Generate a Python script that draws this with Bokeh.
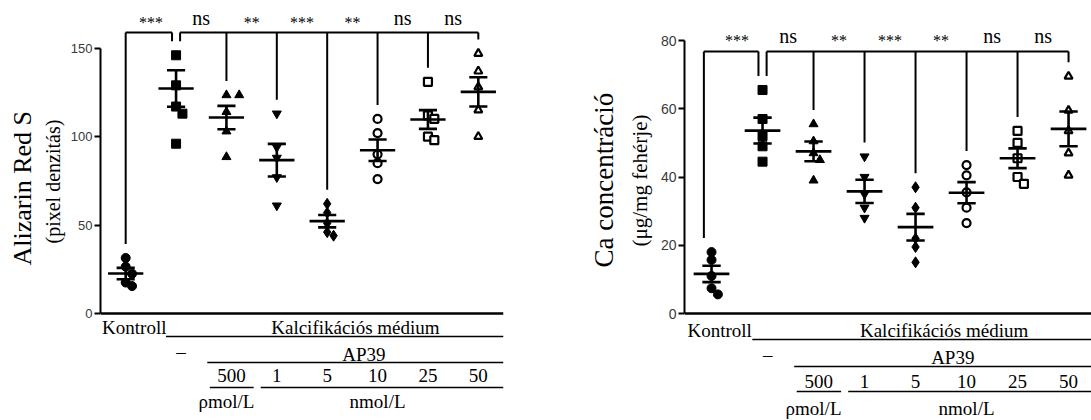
import numpy as np
from bokeh.plotting import figure
from bokeh.models import Range1d, FixedTicker, Span, Label, ColumnDataSource, Title
from bokeh.layouts import row
from bokeh.embed import file_html
from bokeh.resources import INLINE

# ---------------- data ----------------
groups = ["Kontroll", "–", "500", "1", "5", "10", "25", "50"]
significance = ["***", "ns", "**", "***", "**", "ns", "ns"]

ars_points = [
    [31.4, 26.5, 22.5, 17.5, 15.5],
    [146, 129, 117, 113, 96],
    [123.5, 123.5, 114, 103, 88.5],
    [113, 94, 88, 77, 61],
    [62, 57, 51, 46, 44],
    [110, 102, 90, 85, 76],
    [131, 112, 110, 100, 98],
    [147, 137, 128, 115, 100],
]
ars_mean = [22.6, 127.2, 110.8, 86.7, 52.2, 92.3, 109.7, 125.3]
ars_sem = [3.2, 10.3, 6.6, 9.2, 3.5, 6.1, 5.3, 8.3]
ars_ticks = [0, 50, 100, 150]

ca_points = [
    [18, 15.7, 11, 7.4, 5.6],
    [65.5, 57, 52, 49, 44.5],
    [55.5, 50.5, 47, 45, 39],
    [46, 40, 35, 31, 28],
    [37, 31, 22, 19.5, 15],
    [43.5, 40.5, 35.5, 31, 26.5],
    [53.5, 50, 45.5, 40, 38],
    [69.5, 59.5, 53.5, 47, 40.5],
]
ca_mean = [11.6, 53.6, 47.5, 35.8, 25.3, 35.4, 45.5, 54.1]
ca_sem = [2.4, 3.8, 2.9, 3.4, 3.9, 3.1, 2.9, 5.1]
ca_ticks = [0, 20, 40, 60, 80]

# ---------------- styles ----------------
marker_types = ["circle", "square", "triangle", "inverted_triangle", "diamond",
                "circle", "square", "triangle"]
marker_filled = [True, True, True, True, True, False, False, False]
SERIF = "Liberation Serif"
SANS = "Liberation Sans"
TOP, BOTTOM = 0, 420


def swarm(vals, ppy, ppx, d=8.5):
    placed = []
    offs = [0.0] * len(vals)
    for i in np.argsort(-np.array(vals, dtype=float)):
        y = vals[i] * ppy
        xo = 0.0
        for cand in [0, 1, -1, 2, -2, 3, -3]:
            xo = cand * d * 0.75
            if all((xo - px) ** 2 + (y - py) ** 2 >= (d * 0.85) ** 2 for px, py in placed):
                break
        placed.append((xo, y))
        offs[i] = xo / ppx
    return offs


def make_panel(points, means, sems, ticks, main_label, sub_label, cfg):
    fl = cfg["fig_left"] + cfg["border_left"]
    fr = cfg["fig_left"] + cfg["width"] - cfg["border_right"]
    xs, xe = cfg["x_range"]
    y0px, ppy = cfg["y_zero_px"], cfg["ppy"]
    ys, ye = -(BOTTOM - y0px) / ppy, (y0px - TOP) / ppy
    ppx = (fr - fl) / (xe - xs)
    Y = lambda py: (y0px - py) / ppy

    p = figure(width=cfg["width"], height=BOTTOM - TOP,
               x_range=Range1d(xs, xe), y_range=Range1d(ys, ye),
               x_axis_type=None, output_backend="svg", toolbar_location=None,
               min_border_left=cfg["border_left"], min_border_right=cfg["border_right"],
               min_border_top=0, min_border_bottom=0)
    p.grid.visible = False
    p.outline_line_color = None
    p.background_fill_color = "white"
    p.border_fill_color = "white"

    ax = p.yaxis[0]
    ax.ticker = FixedTicker(ticks=ticks)
    ax.bounds = (ticks[0], ticks[-1])
    ax.minor_tick_line_color = None
    ax.major_tick_in = 0
    ax.major_tick_out = 6
    ax.axis_line_width = 2
    ax.major_tick_line_width = 2
    ax.major_label_text_font = SANS
    ax.major_label_text_font_size = cfg["tick_size"]
    ax.major_label_text_color = "#3a3a3a"
    ax.major_label_standoff = 2

    # y-axis titles (two lines, different sizes) as side titles; align "left" starts
    # the text at the frame bottom, offset moves it up
    p.add_layout(Title(text=sub_label, align="left", text_font=SERIF,
                       text_font_style="normal", text_font_size=cfg["sub_size"],
                       text_color="black", standoff=cfg["sub_standoff"],
                       offset=cfg["sub_offset"]), "left")
    p.add_layout(Title(text=main_label, align="left", text_font=SERIF,
                       text_font_style="normal", text_font_size=cfg["main_size"],
                       text_color="black", standoff=cfg["main_standoff"],
                       offset=cfg["main_offset"]), "left")

    p.add_layout(Span(location=0, dimension="width", line_color="black", line_width=2.5))

    # scatter points
    for i, vals in enumerate(points):
        offs = swarm(vals, ppy, ppx)
        src = ColumnDataSource(dict(x=[i + o for o in offs], y=vals))
        size = 11 if marker_types[i] == "diamond" else 9
        if marker_filled[i]:
            p.scatter("x", "y", source=src, marker=marker_types[i], size=size,
                      fill_color="black", line_color="black")
        else:
            p.scatter("x", "y", source=src, marker=marker_types[i], size=size - 1,
                      fill_color="white", line_color="black", line_width=2.2)

    # mean and SEM
    n = len(means)
    idx = np.arange(n)
    m = np.array(means)
    s = np.array(sems)
    p.segment(x0=idx - 0.35, x1=idx + 0.35, y0=m, y1=m, line_color="black", line_width=2.6)
    p.segment(x0=idx, x1=idx, y0=m - s, y1=m + s, line_color="black", line_width=2.6)
    p.segment(x0=idx - 0.18, x1=idx + 0.18, y0=m + s, y1=m + s, line_color="black", line_width=2.6)
    p.segment(x0=idx - 0.18, x1=idx + 0.18, y0=m - s, y1=m - s, line_color="black", line_width=2.6)

    # significance brackets
    L = Y(cfg["bracket_px"])
    drop = [max(v) + 14 / ppy for v in points]
    a, b, c = 0 + cfg["k_off"], 1 - 0.08, 1 + 0.08
    bx0 = [a, a, b, c, c] + [float(i) for i in range(2, n)]
    bx1 = [a, b, b, n - 1, c] + [float(i) for i in range(2, n)]
    by0 = [drop[0], L, L, L, L] + [L] * (n - 2)
    by1 = [L, L, drop[1], L, drop[1]] + [drop[i] for i in range(2, n)]
    p.segment(x0=bx0, x1=bx1, y0=by0, y1=by1, line_color="black", line_width=2)

    sy_ns, sy_st = cfg["star_mid"]
    for i, t in enumerate(significance):
        p.add_layout(Label(x=i + 0.5, y=Y(sy_ns if t == "ns" else sy_st), text=t,
                           text_align="center", text_baseline="middle", text_font=SERIF,
                           text_font_size="20px" if t == "ns" else "16px",
                           text_color="black"))

    # group annotation rows below the axis (y = text middle, px)
    r1, r2, r3, r4 = cfg["rows"]
    l1, l2, l3 = cfg["lines"]
    fs = "19px"

    def lab(x, py, t):
        p.add_layout(Label(x=x, y=Y(py), text=t, text_align="center", text_baseline="middle",
                           text_font=SERIF, text_font_size=fs, text_color="black"))

    lab(cfg["kontroll_x"], r1, groups[0])
    lab(4.56, r1, "Kalcifikációs médium")
    lab(1.1, r2 - 3, groups[1])
    lab(4.73, r2, "AP39")
    lab(2.1, r3, groups[2])
    for i in range(3, n):
        lab(i, r3, groups[i])
    lab(2.0, r4, "ρmol/L")
    lab(5.0, r4, "nmol/L")
    p.segment(x0=[0.8, 1.62, 1.67, 2.68], x1=[xe, xe, 2.54, xe],
              y0=[Y(l1), Y(l2), Y(l3), Y(l3)], y1=[Y(l1), Y(l2), Y(l3), Y(l3)],
              line_color="black", line_width=1.6)
    return p


left_cfg = dict(fig_left=0, width=560, border_left=100, border_right=57,
                x_range=(-0.5, 7.5), y_zero_px=313, ppy=1.7687, tick_size="13px",
                bracket_px=32, star_mid=(17, 22), k_off=0.0, kontroll_x=0.17,
                sub_size="20px", sub_standoff=7, sub_offset=177,
                main_size="26px", main_standoff=0, main_offset=155,
                rows=(327, 354, 375, 401), lines=(336, 362, 387))
right_cfg = dict(fig_left=560, width=531, border_left=124, border_right=0,
                 x_range=(-0.53, 7.45), y_zero_px=313, ppy=3.4125, tick_size="14px",
                 bracket_px=51, star_mid=(35, 40), k_off=-0.15, kontroll_x=0.16,
                 sub_size="21px", sub_standoff=11, sub_offset=174,
                 main_size="27px", main_standoff=4, main_offset=153,
                 rows=(330, 357, 381, 408), lines=(339, 366, 391))

p1 = make_panel(ars_points, ars_mean, ars_sem, ars_ticks,
                "Alizarin Red S", "(pixel denzitás)", left_cfg)
p2 = make_panel(ca_points, ca_mean, ca_sem, ca_ticks,
                "Ca concentráció", "(μg/mg fehérje)", right_cfg)

layout = row(p1, p2)
open("out.html", "w").write(file_html(layout, INLINE))
